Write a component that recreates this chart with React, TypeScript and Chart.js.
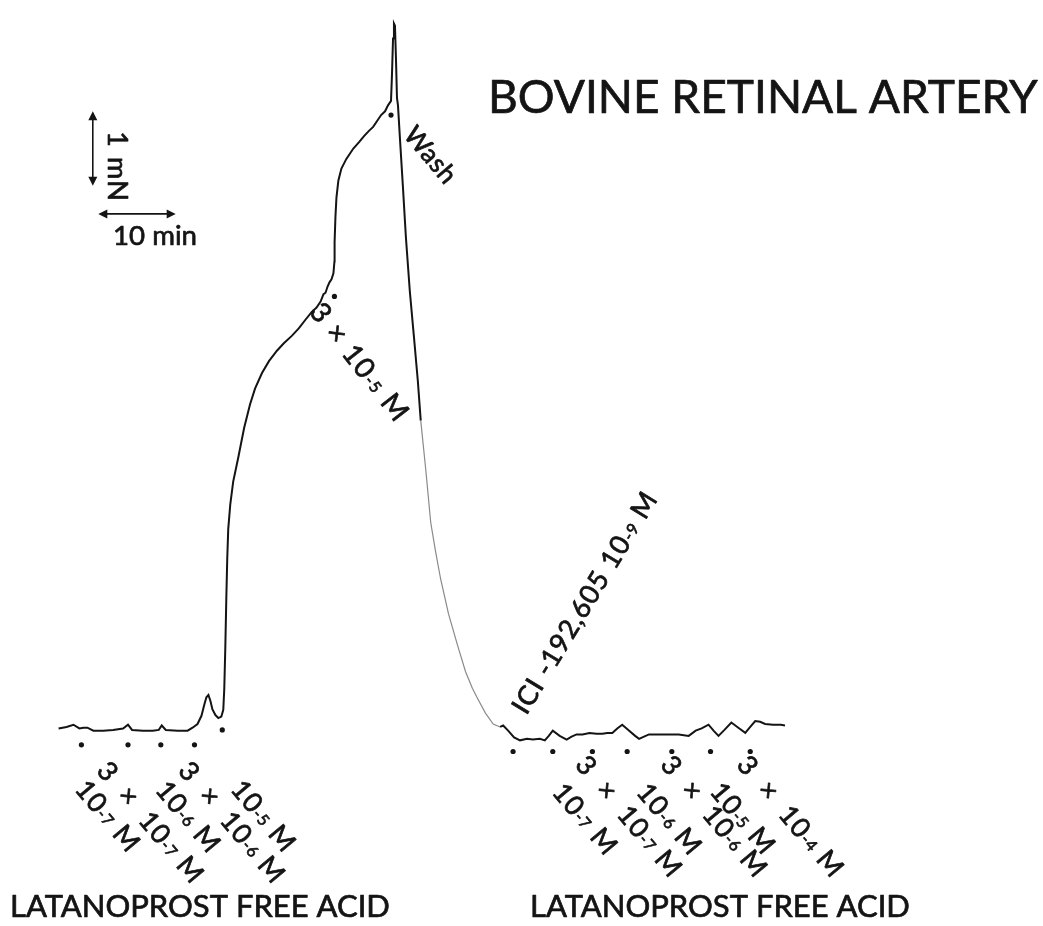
import React, { useEffect, useRef } from "react";
import { Chart, registerables } from "chart.js";

Chart.register(...registerables);

// ---------- DATA ----------
// Isometric tension trace: time (min) vs tension (mN, relative to baseline)
const traceTime = [
  0.0, 1.03, 1.92, 2.69, 3.21, 3.72, 4.49, 5.77, 7.05, 8.33, 8.97, 9.49, 10.9, 12.18, 12.95, 13.33, 13.85,
  15.38, 16.67, 17.31, 17.95, 18.46, 18.85, 19.1, 19.36, 19.62, 19.87, 20.26, 20.64, 21.03, 21.28, 21.41,
  21.54, 21.67, 21.79, 21.92, 22.18, 22.56, 23.21, 23.97, 24.74, 25.38, 26.28, 27.18, 28.21, 29.1, 30.13,
  31.03, 31.92, 32.69, 33.33, 33.85, 34.23, 34.49, 34.74, 35.0, 35.26, 35.51, 35.64, 35.66, 35.77, 35.9,
  36.15, 36.54, 37.18, 38.08, 38.85, 39.49, 40.13, 40.64, 41.15, 41.67, 42.18, 42.56, 42.95, 43.08, 43.21,
  43.33, 43.46, 43.59, 43.72, 43.85, 44.1, 44.49, 44.87, 45.38, 45.9, 46.41, 46.79, 47.44, 48.08, 48.72,
  49.36, 50.38, 51.54, 52.56, 53.46, 54.1, 55.13, 56.15, 57.05, 57.44, 58.08, 58.85, 59.62, 60.51, 61.28,
  62.18, 62.82, 63.33, 63.85, 64.74, 65.64, 66.28, 66.92, 67.69, 68.59, 69.49, 70.26, 70.9, 71.54, 72.18,
  72.82, 73.72, 74.49, 75.0, 75.64, 76.28, 77.56, 79.23, 80.13, 81.41, 82.31, 83.08, 83.97, 84.62, 85.26,
  86.03, 86.92, 87.82, 88.72, 89.36, 90.0, 90.64, 91.28, 92.31, 93.33, 93.85,
];
const traceTension = [
  -0.01, 0.01, 0.04, -0.01, 0.0, 0.0, -0.04, -0.04, -0.03, -0.01, 0.04, -0.03, -0.04, -0.04, -0.03, 0.03, -0.03,
  -0.04, -0.04, 0.0, 0.05, 0.16, 0.32, 0.41, 0.44, 0.36, 0.25, 0.17, 0.13, 0.15, 0.24, 0.53,
  1.07, 1.73, 2.27, 2.67, 3.0, 3.31, 3.63, 4.03, 4.35, 4.56, 4.77, 4.93, 5.07, 5.17, 5.27,
  5.37, 5.49, 5.59, 5.65, 5.73, 5.83, 5.85, 5.93, 5.99, 6.03, 6.11, 6.27, 6.53, 6.87, 7.13,
  7.36, 7.52, 7.65, 7.79, 7.88, 7.96, 8.03, 8.08, 8.16, 8.24, 8.29, 8.37, 8.43, 8.8, 9.27,
  9.47, 9.44, 9.0, 8.47, 8.37, 7.93, 7.27, 6.6, 5.87, 5.27, 4.67, 4.13, 3.47, 2.76, 2.36,
  2.0, 1.53, 1.11, 0.76, 0.53, 0.4, 0.2, 0.05, 0.01, 0.03, -0.04, -0.13, -0.17, -0.15, -0.16,
  -0.15, -0.17, -0.11, -0.04, -0.11, -0.16, -0.12, -0.09, -0.09, -0.07, -0.08, -0.08, -0.07, -0.07, -0.01,
  0.04, -0.04, -0.11, -0.15, -0.12, -0.09, -0.09, -0.09, -0.09, -0.11, -0.04, -0.01, 0.04, -0.04, -0.11,
  -0.03, 0.07, 0.0, -0.07, 0.01, 0.09, 0.08, 0.05, 0.04, 0.04, 0.03,
];

// Faint (thin grey) part of the recorder trace after the wash
const fadeStart = 46.79;
const fadeEnd = 57.05;

// Drug additions (time, min) and marker level (mN)
const leftDoseTimes = [2.95, 8.97, 13.21, 17.56, 21.15];
const leftDoseLevels = [-0.23, -0.23, -0.23, -0.23, -0.03];
const leftDoseLabels = ["10^-7 M", "3  ×  10^-7 M", "10^-6 M", "3  ×  10^-6 M", "10^-5 M"];

const rightDoseTimes = [58.72, 63.85, 68.97, 73.46, 79.23, 84.23, 89.36];
const rightDoseLevels = [-0.32, -0.32, -0.32, -0.32, -0.32, -0.32, -0.32];
const rightDoseLabels = ["10^-7 M", "3  ×  10^-7 M", "10^-6 M", "3  ×  10^-6 M", "10^-5 M", "3  ×  10^-4 M"];

const peakDoseTime = [35.64];
const peakDoseLevel = [5.8];
const peakDoseLabel = "3 × 10^-5 M";
const washTime = [42.95];
const washLevel = [8.24];
const washLabel = "Wash";
const antagonistLabel = "ICI -192,605 10^-9 M";

const titleText = "BOVINE RETINAL ARTERY";
const drugText = "LATANOPROST FREE ACID";
const forceBar = 1; // mN
const timeBar = 10; // min
const forceBarLabel = "1 mN";
const timeBarLabel = "10 min";

// ---------- LAYOUT (annotation anchors in data units) ----------
const leftLabelAnchorT = [2.82, 5.64, 13.21, 16.15, 22.95];
const leftLabelAnchorV = [-0.76, -0.51, -0.77, -0.51, -0.76];
const rightLabelAnchorT = [64.49, 67.44, 75.38, 78.46, 84.87, 88.33];
const rightLabelAnchorV = [-0.8, -0.43, -0.8, -0.43, -0.79, -0.43];

const INK = "#141414";
const FONT = "Lato";
const TEXT_STROKE = 0.7;

function drawRich(ctx: CanvasRenderingContext2D, text: string, x: number, y: number, angleDeg: number, size: number, spacing = 1) {
  ctx.save();
  ctx.translate(x, y);
  ctx.rotate((angleDeg * Math.PI) / 180);
  ctx.textBaseline = "middle";
  ctx.textAlign = "left";
  ctx.lineWidth = TEXT_STROKE;
  ctx.lineJoin = "round";
  (ctx as any).letterSpacing = spacing + "px";
  let cx = 0;
  const parts = text.split(/(\^\S+)/);
  for (const p of parts) {
    if (!p) continue;
    if (p.startsWith("^")) {
      const s = p.slice(1);
      ctx.font = `${Math.round(size * 0.58)}px ${FONT}`;
      ctx.fillText(s, cx, size * 0.1);
      ctx.strokeText(s, cx, size * 0.1);
      cx += ctx.measureText(s).width;
    } else {
      ctx.font = `${size}px ${FONT}`;
      ctx.fillText(p, cx, 0);
      ctx.strokeText(p, cx, 0);
      cx += ctx.measureText(p).width;
    }
  }
  ctx.restore();
}

function fitSize(ctx: CanvasRenderingContext2D, text: string, width: number) {
  ctx.font = `100px ${FONT}`;
  (ctx as any).letterSpacing = "0px";
  return (100 * width) / ctx.measureText(text).width;
}

function drawPlain(ctx: CanvasRenderingContext2D, text: string, x: number, y: number, width: number) {
  const s = fitSize(ctx, text, width);
  ctx.font = `${s}px ${FONT}`;
  ctx.textBaseline = "alphabetic";
  ctx.textAlign = "left";
  ctx.lineWidth = TEXT_STROKE;
  ctx.lineJoin = "round";
  ctx.fillText(text, x, y);
  ctx.strokeText(text, x, y);
}

function arrowHead(ctx: CanvasRenderingContext2D, x: number, y: number, dx: number, dy: number) {
  const len = 9, half = 4.5;
  const bx = x - dx * len, by = y - dy * len;
  ctx.beginPath();
  ctx.moveTo(x, y);
  ctx.lineTo(bx - dy * half, by + dx * half);
  ctx.lineTo(bx + dy * half, by - dx * half);
  ctx.closePath();
  ctx.fill();
}

const annotations = {
  id: "annotations",
  afterDatasetsDraw(chart: any) {
    const { ctx } = chart;
    const xs = chart.scales.x, ys = chart.scales.y;
    const px = (t: number) => xs.getPixelForValue(t);
    const py = (v: number) => ys.getPixelForValue(v);
    ctx.save();
    ctx.fillStyle = INK;
    ctx.strokeStyle = INK;

    // dose labels
    const doseSize = 27;
    leftDoseLabels.forEach((lab, i) => drawRich(ctx, lab, px(leftLabelAnchorT[i]), py(leftLabelAnchorV[i]), 50, doseSize));
    rightDoseLabels.forEach((lab, i) => drawRich(ctx, lab, px(rightLabelAnchorT[i]), py(rightLabelAnchorV[i]), 50, doseSize));
    drawRich(ctx, peakDoseLabel, px(peakDoseTime[0]) - 19, py(peakDoseLevel[0]) + 10, 52, 28, 1.5);
    drawRich(ctx, washLabel, px(washTime[0]) + 18, py(washLevel[0]) + 15, 50, 26, 0.5);
    drawRich(ctx, antagonistLabel, px(rightDoseTimes[0]) + 6, py(rightDoseLevels[0]) - 40, -58.7, 27, 1);

    // titles
    drawPlain(ctx, titleText, 488, 113, 550);
    drawPlain(ctx, drugText, 10, 917, 380);
    drawPlain(ctx, drugText, 530, 917, 380);

    // scale bars
    const bt = 4.42, bv = 7.29;
    const x0 = px(bt), yb = py(bv), yt = py(bv + forceBar);
    ctx.lineWidth = 1.6;
    ctx.beginPath();
    ctx.moveTo(x0, yb - 6);
    ctx.lineTo(x0, yt + 6);
    ctx.stroke();
    arrowHead(ctx, x0, yt, 0, -1);
    arrowHead(ctx, x0, yb, 0, 1);
    drawRich(ctx, forceBarLabel, x0 + 24, yt + 20, 90, 27, 1.5);

    const ht = 5.13, hv = 6.91;
    const hx0 = px(ht), hx1 = px(ht + timeBar), hy = py(hv);
    ctx.lineWidth = 1.6;
    ctx.beginPath();
    ctx.moveTo(hx0 + 6, hy);
    ctx.lineTo(hx1 - 6, hy);
    ctx.stroke();
    arrowHead(ctx, hx0, hy, -1, 0);
    arrowHead(ctx, hx1, hy, 1, 0);
    drawPlain(ctx, timeBarLabel, 113, 245, 84);

    ctx.restore();
  },
};

export default function App() {
  const ref = useRef<HTMLCanvasElement | null>(null);
  useEffect(() => {
    document.body.style.margin = "0";
    const canvas = ref.current!;
    const dots = [
      ...leftDoseTimes.map((t, i) => ({ x: t, y: leftDoseLevels[i] })),
      ...rightDoseTimes.map((t, i) => ({ x: t, y: rightDoseLevels[i] })),
      { x: peakDoseTime[0], y: peakDoseLevel[0] },
      { x: washTime[0], y: washLevel[0] },
    ];
    const chart = new Chart(canvas, {
      type: "line",
      data: {
        datasets: [
          {
            type: "line",
            data: traceTime.map((t, i) => ({ x: t, y: traceTension[i] })),
            borderColor: INK,
            borderWidth: 2,
            pointRadius: 0,
            tension: 0,
            segment: {
              borderColor: (c: any) => (c.p0.parsed.x >= fadeStart && c.p1.parsed.x <= fadeEnd ? "#8a8a8a" : INK),
              borderWidth: (c: any) => (c.p0.parsed.x >= fadeStart && c.p1.parsed.x <= fadeEnd ? 1.2 : 2),
            },
          } as any,
          {
            type: "scatter",
            data: dots,
            pointRadius: 2.6,
            pointBackgroundColor: INK,
            pointBorderWidth: 0,
            showLine: false,
          } as any,
        ],
      },
      options: {
        animation: false,
        responsive: false,
        events: [],
        layout: { padding: 0 },
        plugins: { legend: { display: false }, tooltip: { enabled: false } },
        scales: {
          x: { type: "linear", min: -7.051, max: 126.667, display: false },
          y: { type: "linear", min: -2.6133, max: 9.7333, display: false },
        },
      },
      plugins: [annotations],
    });
    return () => chart.destroy();
  }, []);
  return (
    <div style={{ width: 1043, height: 926, background: "#fff" }}>
      <canvas ref={ref} width={1043} height={926} style={{ display: "block" }} />
    </div>
  );
}
